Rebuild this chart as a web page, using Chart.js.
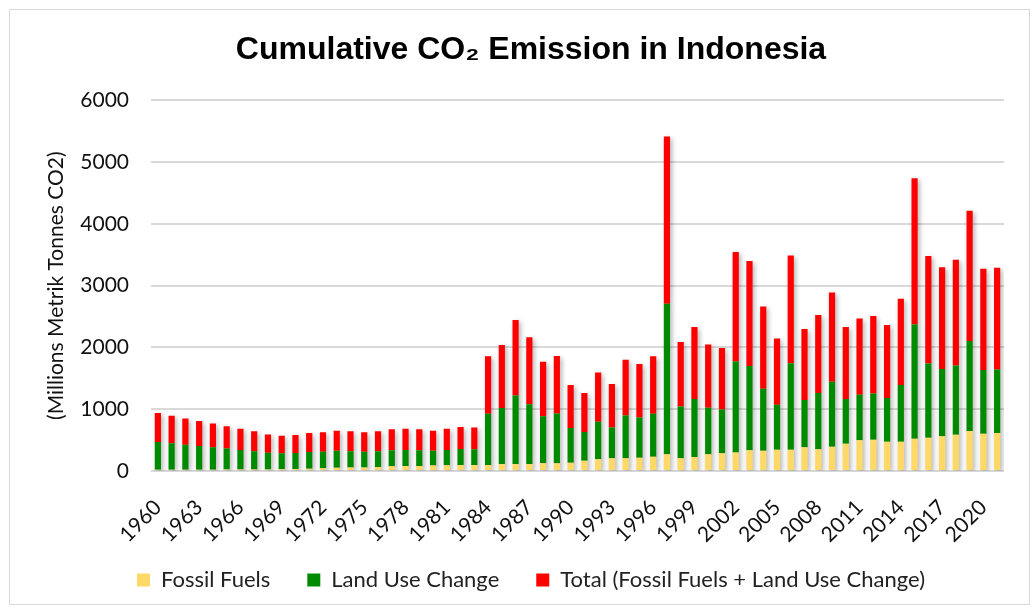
<!DOCTYPE html>
<html>
<head>
<meta charset="utf-8">
<script src="https://cdn.jsdelivr.net/npm/chart.js@4.4.1/dist/chart.umd.min.js"></script>
<style>
  html, body { margin: 0; padding: 0; background: #ffffff; }
  #wrap { width: 1036px; height: 611px; position: relative; }
</style>
</head>
<body>
<div id="wrap"><canvas id="c" width="1036" height="611"></canvas></div>
<script>
const years = [1960,1961,1962,1963,1964,1965,1966,1967,1968,1969,1970,1971,1972,1973,1974,1975,1976,1977,1978,1979,1980,1981,1982,1983,1984,1985,1986,1987,1988,1989,1990,1991,1992,1993,1994,1995,1996,1997,1998,1999,2000,2001,2002,2003,2004,2005,2006,2007,2008,2009,2010,2011,2012,2013,2014,2015,2016,2017,2018,2019,2020,2021];

const fossilFuels = [22,22,22,21,22,23,23,24,26,28,34,37,45,52,55,58,65,76,80,82,90,95,97,98,97,113,113,113,124,124,135,167,189,205,205,216,232,270,205,227,270,286,300,335,329,345,345,383,351,394,442,496,507,475,475,523,539,561,588,647,604,615];

const landUseChange = [448,426,403,384,363,340,319,297,270,258,257,270,268,274,266,255,256,261,262,255,236,247,259,255,831,907,1109,969,761,806,561,464,609,499,695,650,696,2438,839,938,755,709,1472,1364,1003,728,1400,766,911,1051,723,739,747,706,919,1847,1201,1089,1122,1459,1033,1030];

const totalEmission = [470,448,425,405,385,363,342,321,296,286,291,307,313,326,321,313,321,337,342,337,326,342,356,353,928,1020,1222,1082,885,930,696,631,798,704,900,866,928,2708,1044,1165,1025,995,1772,1699,1332,1073,1745,1149,1262,1445,1165,1235,1254,1181,1394,2370,1740,1650,1710,2106,1637,1645];

const yTicks = [0,1000,2000,3000,4000,5000,6000];

const FONT = "Lato, 'Open Sans', 'Liberation Sans', sans-serif";

const frame = {
  id: 'frame',
  beforeDraw(chart) {
    const ctx = chart.ctx;
    ctx.save();
    ctx.fillStyle = '#ffffff';
    ctx.fillRect(0, 0, chart.width, chart.height);
    ctx.strokeStyle = '#d9d9d9';
    ctx.lineWidth = 1;
    ctx.strokeRect(9.5, 9.5, 1020, 595);
    ctx.restore();
  }
};

const shadow = {
  id: 'shadow',
  beforeDatasetsDraw(chart) {
    const ctx = chart.ctx;
    ctx.save();
    ctx.shadowColor = 'rgba(0,0,0,0.30)';
    ctx.shadowBlur = 5;
    ctx.shadowOffsetX = 2;
    ctx.shadowOffsetY = 2;
  },
  afterDatasetsDraw(chart) {
    chart.ctx.restore();
  }
};

new Chart(document.getElementById('c'), {
  type: 'bar',
  data: {
    labels: years.map(String),
    datasets: [
      { label: 'Fossil Fuels', data: fossilFuels, backgroundColor: '#FFD966' },
      { label: 'Land Use Change', data: landUseChange, backgroundColor: '#008A00' },
      { label: 'Total (Fossil Fuels + Land Use Change)', data: totalEmission, backgroundColor: '#FF0000' }
    ]
  },
  options: {
    responsive: false,
    animation: false,
    devicePixelRatio: 1,
    layout: { padding: { left: 58, right: 32, top: 10, bottom: 10 } },
    datasets: { bar: { categoryPercentage: 0.9, barPercentage: 0.5, borderWidth: 0 } },
    plugins: {
      title: {
        display: true,
        text: 'Cumulative CO₂ Emission in Indonesia',
        color: '#000000',
        font: { family: "'Liberation Sans', Arial, sans-serif", size: 32, weight: 'bold' },
        padding: { top: 21, bottom: 31 }
      },
      legend: {
        position: 'bottom',
        labels: {
          boxWidth: 13, boxHeight: 13,
          padding: 37,
          color: '#222222',
          font: { family: FONT, size: 22 }
        }
      },
      tooltip: { enabled: false }
    },
    scales: {
      x: {
        stacked: true,
        grid: { display: false },
        border: { display: false },
        ticks: {
          autoSkip: false,
          maxRotation: 45, minRotation: 45,
          color: '#111111',
          font: { family: FONT, size: 21 },
          padding: 16,
          callback: function(v, i) { return i % 3 === 0 ? String(years[i]) : ''; }
        },
        afterFit(s) {
          s.height = 61;
          s._computeLabelArea = function() {
            return { top: 0, left: 0, bottom: this.chart.height, right: this.chart.width };
          };
        }
      },
      y: {
        stacked: true,
        min: 0, max: 6000,
        afterBuildTicks(s) { s.ticks = yTicks.map(v => ({ value: v })); },
        grid: { color: '#d9d9d9', lineWidth: 2, drawTicks: false },
        border: { display: false },
        ticks: {
          color: '#111111',
          font: { family: FONT, size: 21 },
          padding: 22,
          callback: function(v) { return String(v); }
        },
        title: {
          display: true,
          text: '(Millions Metrik Tonnes CO2)',
          color: '#111111',
          font: { family: FONT, size: 21 },
          padding: { top: -14, bottom: 14 }
        },
        afterFit(s) { s.width = 93; }
      }
    }
  },
  plugins: [frame, shadow]
});
</script>
</body>
</html>
